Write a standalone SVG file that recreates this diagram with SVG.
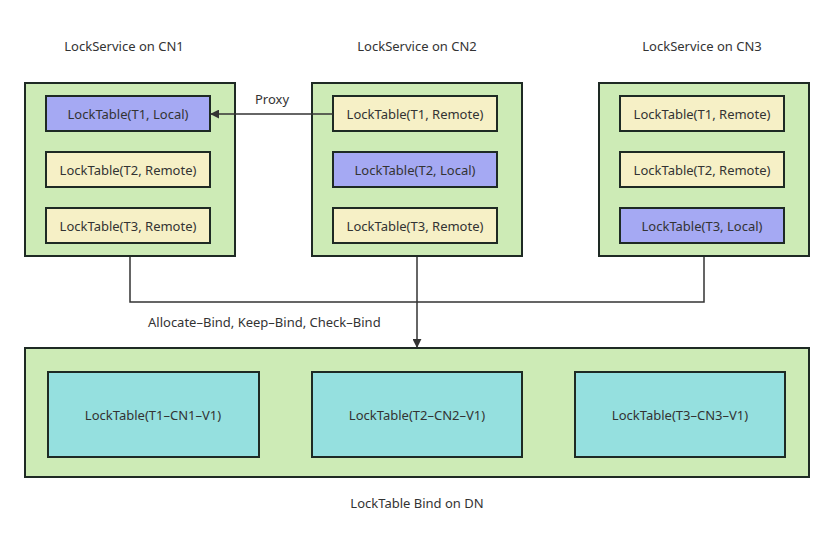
<svg xmlns="http://www.w3.org/2000/svg" width="834" height="547" viewBox="0 0 834 547">
<style>
text{font-family:"Noto Sans","Liberation Sans",sans-serif;font-size:13px;fill:#333;}
.c{text-anchor:middle;dominant-baseline:central;}
.cont{fill:#cdebb6;stroke:#1e2a24;stroke-width:2;}
.loc{fill:#a5a9f3;stroke:#1e2a24;stroke-width:2;}
.rem{fill:#f6f0c6;stroke:#1e2a24;stroke-width:2;}
.dn{fill:#95e0df;stroke:#1e2a24;stroke-width:2;}
.ln{fill:none;stroke:#333;stroke-width:1.5;}
</style>
<defs>
<marker id="ah" viewBox="0 0 10 10" refX="9" refY="5" markerWidth="9" markerHeight="9" markerUnits="userSpaceOnUse" orient="auto">
<path d="M0,0 L10,5 L0,10 z" fill="#333"/>
</marker>
</defs>
<text class="c" x="124" y="46">LockService on CN1</text>
<text class="c" x="417" y="46">LockService on CN2</text>
<text class="c" x="702" y="46">LockService on CN3</text>
<g id="cn1">
<rect class="cont" x="25" y="83" width="210" height="173"/>
<rect class="loc" x="46" y="96" width="164" height="35"/>
<text class="c" x="128" y="114">LockTable(T1, Local)</text>
<rect class="rem" x="46" y="152" width="164" height="35"/>
<text class="c" x="128" y="170">LockTable(T2, Remote)</text>
<rect class="rem" x="46" y="208" width="164" height="35"/>
<text class="c" x="128" y="226">LockTable(T3, Remote)</text>
</g>
<g id="cn2">
<rect class="cont" x="312" y="83" width="210" height="173"/>
<rect class="rem" x="333" y="96" width="164" height="35"/>
<text class="c" x="415" y="114">LockTable(T1, Remote)</text>
<rect class="loc" x="333" y="152" width="164" height="35"/>
<text class="c" x="415" y="170">LockTable(T2, Local)</text>
<rect class="rem" x="333" y="208" width="164" height="35"/>
<text class="c" x="415" y="226">LockTable(T3, Remote)</text>
</g>
<g id="cn3">
<rect class="cont" x="599" y="83" width="210" height="173"/>
<rect class="rem" x="620" y="96" width="164" height="35"/>
<text class="c" x="702" y="114">LockTable(T1, Remote)</text>
<rect class="rem" x="620" y="152" width="164" height="35"/>
<text class="c" x="702" y="170">LockTable(T2, Remote)</text>
<rect class="loc" x="620" y="208" width="164" height="35"/>
<text class="c" x="702" y="226">LockTable(T3, Local)</text>
</g>
<g id="dn">
<rect class="cont" x="25" y="348" width="784" height="129"/>
<rect class="dn" x="48" y="372" width="211" height="85"/>
<text class="c" x="153" y="415">LockTable(T1–CN1–V1)</text>
<rect class="dn" x="312" y="372" width="210" height="85"/>
<text class="c" x="417" y="415">LockTable(T2–CN2–V1)</text>
<rect class="dn" x="575" y="372" width="210" height="85"/>
<text class="c" x="680" y="415">LockTable(T3–CN3–V1)</text>
</g>
<text class="c" x="417" y="503">LockTable Bind on DN</text>
<g id="connectors">
<line class="ln" x1="333" y1="114" x2="211" y2="114" marker-end="url(#ah)"/>
<text class="c" x="272" y="99">Proxy</text>
<polyline class="ln" points="130,257 130,302 704,302 704,257"/>
<line class="ln" x1="417" y1="257" x2="417" y2="347" marker-end="url(#ah)"/>
<text x="148" y="327">Allocate–Bind, Keep–Bind, Check–Bind</text>
</g>
</svg>
